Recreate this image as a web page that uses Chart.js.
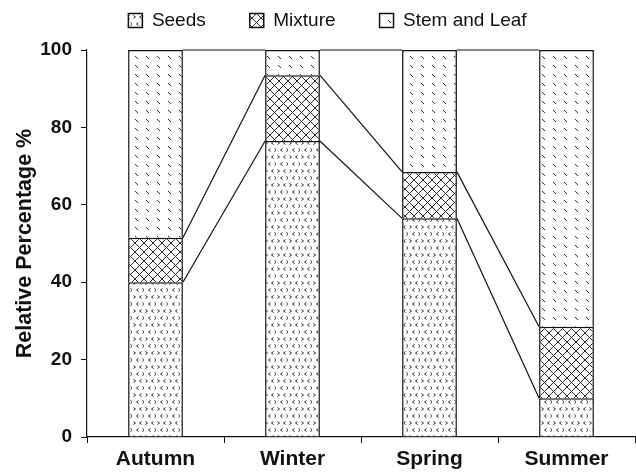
<!DOCTYPE html>
<html>
<head>
<meta charset="utf-8">
<script src="https://cdn.jsdelivr.net/npm/chart.js@4.4.1/dist/chart.umd.min.js"></script>
<style>
  html, body { margin: 0; padding: 0; background: #fff; }
  #wrap { width: 636px; height: 475px; }
</style>
</head>
<body>
<div id="wrap"><canvas id="c" width="636" height="475"></canvas></div>
<script>
// ---- Data ----
const categories = ['Autumn', 'Winter', 'Spring', 'Summer'];
const seriesNames = ['Seeds', 'Mixture', 'Stem and Leaf'];
const seeds = [40, 76.5, 56.5, 10];
const mixture = [11.5, 17, 12, 18.5];
const stemLeaf = [48.5, 6.5, 31.5, 71.5];
const yTicks = [0, 20, 40, 60, 80, 100];
const yTitle = 'Relative Percentage %';

// ---- Patterns ----
const helperCtx = document.createElement('canvas').getContext('2d');
function makePattern(w, h, draw) {
  const c = document.createElement('canvas');
  c.width = w; c.height = h;
  const x = c.getContext('2d');
  x.fillStyle = '#ffffff';
  x.fillRect(0, 0, w, h);
  x.strokeStyle = '#2a2a2a';
  x.lineWidth = 1;
  draw(x);
  return helperCtx.createPattern(c, 'repeat');
}
function lt(x, px, py) { x.beginPath(); x.moveTo(px + 2, py); x.lineTo(px, py + 1.5); x.lineTo(px + 2, py + 3); x.stroke(); }
function gt(x, px, py) { x.beginPath(); x.moveTo(px, py); x.lineTo(px + 2, py + 1.5); x.lineTo(px, py + 3); x.stroke(); }
const seedsPattern = makePattern(12, 14, x => {
  gt(x, 1.5, 1.5); lt(x, 7.5, 1.5);
  lt(x, 4.5, 8.5); gt(x, 10.5, 8.5);
});
const mixPattern = makePattern(9, 9, x => {
  x.lineWidth = 1;
  x.beginPath();
  x.moveTo(-1, -1); x.lineTo(10, 10);
  x.moveTo(10, -1); x.lineTo(-1, 10);
  x.stroke();
});
const stemPattern = makePattern(11, 9, x => {
  x.beginPath();
  x.moveTo(3, 2); x.lineTo(6, 5);
  x.stroke();
});

// ---- Connector lines between bars ----
const connectorPlugin = {
  id: 'connectors',
  afterDatasetsDraw(chart) {
    const ys = chart.scales.y;
    const meta = chart.getDatasetMeta(0);
    const lvl1 = seeds.map((v, i) => v);
    const lvl2 = seeds.map((v, i) => v + mixture[i]);
    const lvl3 = seeds.map((v, i) => v + mixture[i] + stemLeaf[i]);
    const ctx = chart.ctx;
    ctx.save();
    ctx.strokeStyle = '#111';
    ctx.lineWidth = 1.2;
    for (let i = 0; i < categories.length - 1; i++) {
      const a = meta.data[i], b = meta.data[i + 1];
      const x1 = a.x + a.width / 2, x2 = b.x - b.width / 2;
      [lvl1, lvl2, lvl3].forEach(L => {
        ctx.beginPath();
        ctx.moveTo(x1, ys.getPixelForValue(L[i]));
        ctx.lineTo(x2, ys.getPixelForValue(L[i + 1]));
        ctx.stroke();
      });
    }
    ctx.restore();
  }
};

const legendShift = {
  id: 'legendShift',
  afterLayout(chart) {
    const lg = chart.legend;
    if (lg) { lg.left += 10; lg.right += 10; lg.top -= 39; }
  }
};

const fontFamily = '"Liberation Sans", Arial, Helvetica, sans-serif';

new Chart(document.getElementById('c'), {
  type: 'bar',
  data: {
    labels: categories,
    datasets: [
      { label: seriesNames[0], data: seeds, backgroundColor: seedsPattern, borderColor: '#111', borderWidth: 1.5 },
      { label: seriesNames[1], data: mixture, backgroundColor: mixPattern, borderColor: '#111', borderWidth: 1.5 },
      { label: seriesNames[2], data: stemLeaf, backgroundColor: stemPattern, borderColor: '#111', borderWidth: 1.5 }
    ]
  },
  options: {
    responsive: false,
    animation: false,
    devicePixelRatio: 1,
    layout: { padding: { top: 6, right: 1, left: 0, bottom: 0 } },
    datasets: { bar: { categoryPercentage: 1, barPercentage: 0.4 } },
    plugins: {
      legend: {
        position: 'top',
        maxHeight: 44,
        labels: {
          color: '#111',
          font: { family: fontFamily, size: 19 },
          boxWidth: 14,
          boxHeight: 14,
          padding: 44
        }
      },
      tooltip: { enabled: false }
    },
    scales: {
      x: {
        stacked: true,
        offset: true,
        grid: { display: true, offset: true, drawOnChartArea: false, drawTicks: true, tickLength: 6, color: '#111' },
        border: { display: true, color: '#111', width: 1.2 },
        ticks: { color: '#111', font: { family: fontFamily, size: 21, weight: 'bold' }, padding: 4 },
        afterFit(s) { s.height = 38; }
      },
      y: {
        stacked: true,
        min: 0,
        max: 100,
        afterBuildTicks(s) { s.ticks = yTicks.map(v => ({ value: v })); },
        grid: { display: true, drawOnChartArea: false, drawTicks: true, tickLength: 6, color: '#111' },
        border: { display: true, color: '#111', width: 1.2 },
        ticks: { color: '#111', font: { family: fontFamily, size: 19, weight: 'bold' }, padding: 9 },
        title: { display: true, text: yTitle, color: '#111', font: { family: fontFamily, size: 21.5, weight: 'bold' }, padding: { top: 12, bottom: 0 } },
        afterFit(s) { s.width = 87; }
      }
    }
  },
  plugins: [connectorPlugin, legendShift]
});
</script>
</body>
</html>
